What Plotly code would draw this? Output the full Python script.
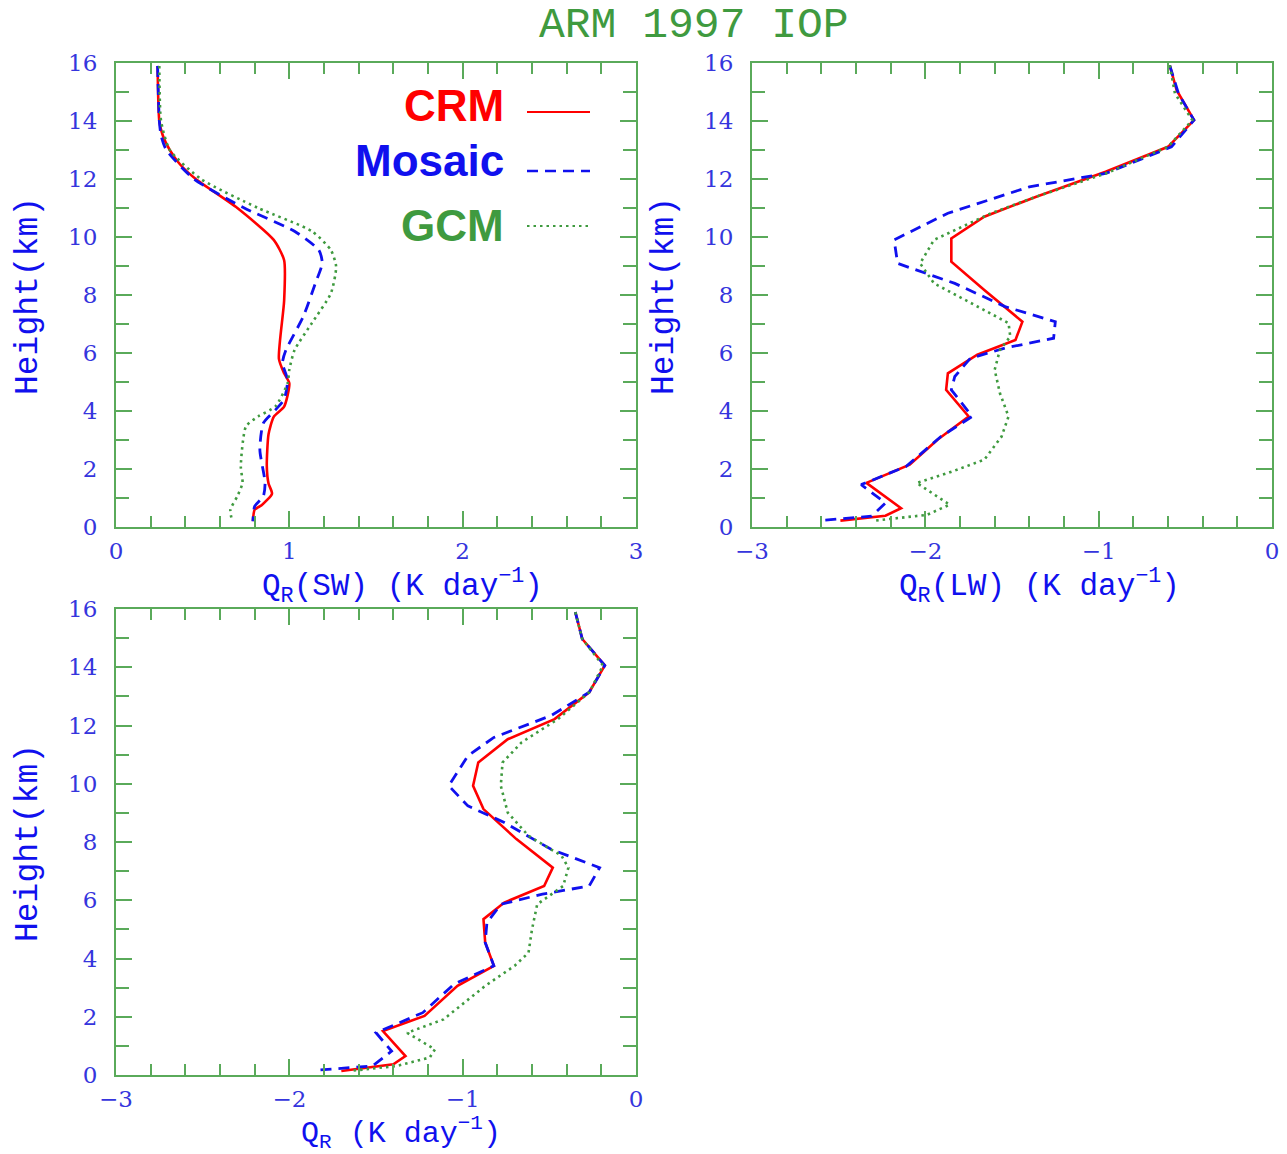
import plotly.graph_objects as go

# ---------------- data ----------------
# Panel 1: shortwave heating rate (K/day) vs height (km)
crm_sw_h = [15.9, 14.0, 13.5, 13.0, 12.5, 12.0, 11.0, 9.9, 9.2, 7.8, 5.8, 5.3, 4.95, 4.15, 3.8, 3.2, 2.1, 1.5, 1.15, 0.75, 0.6, 0.2]
crm_sw = [0.24, 0.25, 0.27, 0.31, 0.37, 0.46, 0.70, 0.91, 0.97, 0.97, 0.94, 0.97, 1.00, 0.97, 0.91, 0.88, 0.87, 0.88, 0.90, 0.84, 0.80, 0.79]
mos_sw_h = [15.9, 14.0, 13.5, 13.0, 12.0, 11.0, 10.2, 9.55, 9.1, 8.4, 7.25, 6.1, 5.65, 5.07, 4.4, 4.04, 3.58, 2.66, 1.52, 1.06, 0.71, 0.2]
mos_sw = [0.24, 0.25, 0.26, 0.29, 0.45, 0.74, 1.03, 1.17, 1.19, 1.15, 1.08, 0.98, 0.96, 0.99, 0.97, 0.92, 0.85, 0.83, 0.86, 0.85, 0.80, 0.79]
gcm_sw_h = [15.9, 14.0, 13.0, 12.0, 11.0, 10.2, 9.55, 8.98, 8.06, 7.03, 6.1, 5.42, 4.96, 4.16, 3.81, 3.47, 2.09, 1.52, 1.06, 0.6, 0.2]
gcm_sw = [0.25, 0.26, 0.31, 0.49, 0.82, 1.13, 1.24, 1.27, 1.24, 1.13, 1.03, 1.00, 0.99, 0.92, 0.82, 0.75, 0.72, 0.73, 0.70, 0.66, 0.67]

# Panel 2: longwave heating rate
crm_lw_h = [15.92, 15.06, 14.03, 13.11, 12.25, 11.39, 10.7, 9.95, 9.15, 8.17, 7.08, 6.45, 5.94, 5.3, 4.73, 3.81, 3.01, 2.15, 1.52, 0.65, 0.39, 0.22]
crm_lw = [-0.59, -0.55, -0.45, -0.60, -0.96, -1.36, -1.66, -1.85, -1.85, -1.66, -1.44, -1.48, -1.70, -1.87, -1.88, -1.75, -1.93, -2.09, -2.34, -2.14, -2.23, -2.49]
mos_lw_h = [15.92, 14.95, 14.03, 13.11, 12.19, 11.73, 10.82, 9.9, 9.09, 8.4, 7.6, 7.08, 6.51, 6.17, 5.82, 5.19, 4.73, 3.81, 3.12, 2.09, 1.46, 0.83, 0.37, 0.22]
mos_lw = [-0.59, -0.54, -0.45, -0.58, -0.96, -1.40, -1.87, -2.18, -2.16, -1.83, -1.54, -1.25, -1.26, -1.54, -1.74, -1.83, -1.85, -1.73, -1.91, -2.11, -2.37, -2.23, -2.31, -2.61]
gcm_lw_h = [15.92, 14.95, 14.03, 13.11, 12.19, 11.39, 10.82, 9.9, 9.09, 8.4, 7.83, 7.03, 6.57, 6.1, 5.42, 4.62, 3.81, 3.12, 2.32, 1.86, 1.52, 0.77, 0.42, 0.22]
gcm_lw = [-0.59, -0.56, -0.46, -0.60, -0.96, -1.36, -1.62, -1.95, -2.03, -1.95, -1.77, -1.52, -1.51, -1.57, -1.60, -1.57, -1.52, -1.56, -1.66, -1.87, -2.05, -1.86, -1.99, -2.29]

# Panel 3: total radiative heating rate
crm_tot_h = [15.89, 14.97, 14.06, 13.14, 12.22, 11.53, 10.73, 9.93, 9.13, 8.1, 7.12, 6.49, 5.92, 5.35, 4.55, 3.75, 3.06, 2.03, 1.51, 0.65, 0.37, 0.14]
crm_tot = [-0.35, -0.31, -0.18, -0.27, -0.47, -0.74, -0.91, -0.94, -0.88, -0.69, -0.48, -0.53, -0.76, -0.88, -0.87, -0.82, -1.03, -1.22, -1.46, -1.33, -1.40, -1.70]
mos_tot_h = [15.89, 14.97, 14.06, 13.14, 12.34, 11.59, 10.96, 9.93, 9.24, 8.67, 7.75, 7.12, 6.49, 6.21, 5.86, 5.23, 4.55, 3.75, 3.12, 2.14, 1.45, 0.82, 0.31, 0.17]
mos_tot = [-0.35, -0.31, -0.18, -0.27, -0.49, -0.82, -0.97, -1.08, -0.97, -0.76, -0.49, -0.21, -0.27, -0.54, -0.78, -0.86, -0.87, -0.82, -1.05, -1.23, -1.50, -1.41, -1.52, -1.83]
gcm_tot_h = [15.89, 14.97, 14.06, 13.14, 12.22, 11.42, 10.73, 9.93, 9.01, 8.21, 7.53, 7.12, 6.49, 5.86, 5.0, 4.2, 3.75, 3.06, 1.91, 1.45, 0.88, 0.6, 0.31, 0.14]
gcm_tot = [-0.35, -0.31, -0.19, -0.27, -0.45, -0.66, -0.77, -0.78, -0.74, -0.62, -0.43, -0.39, -0.42, -0.57, -0.60, -0.62, -0.70, -0.87, -1.11, -1.32, -1.16, -1.19, -1.38, -1.65]

series_names = ["CRM", "Mosaic", "GCM"]
title_text = "ARM 1997 IOP"

# ---------------- style ----------------
W, H = 1287, 1154
RED, BLUE, GREEN = "#ff0000", "#1010ee", "#3f9a3f"
FRAME = "#5aaa5a"
TICKCOL = "#3535dd"
styles = {
    "CRM": dict(color=RED, width=2.6, dash="solid"),
    "Mosaic": dict(color=BLUE, width=2.8, dash="11px,7px"),
    "GCM": dict(color=GREEN, width=2.6, dash="2.5px,4px"),
}

fig = go.Figure()

def add_panel(xaxis, yaxis, data, shape):
    for name, (h, v) in zip(series_names, data):
        st = styles[name]
        fig.add_trace(go.Scatter(
            x=v, y=h, mode="lines", name=name, showlegend=False,
            xaxis=xaxis, yaxis=yaxis,
            line=dict(color=st["color"], width=st["width"], dash=st["dash"],
                      shape=shape, smoothing=0.6 if shape == "spline" else None),
        ))

add_panel("x", "y", [(crm_sw_h, crm_sw), (mos_sw_h, mos_sw), (gcm_sw_h, gcm_sw)], "spline")
add_panel("x2", "y2", [(crm_lw_h, crm_lw), (mos_lw_h, mos_lw), (gcm_lw_h, gcm_lw)], "linear")
add_panel("x3", "y3", [(crm_tot_h, crm_tot), (mos_tot_h, mos_tot), (gcm_tot_h, gcm_tot)], "linear")

def px(x):
    return x / W

def py(y):
    return 1 - y / H

tickfont = dict(family="DejaVu Serif", size=23, color=TICKCOL)

def xaxis_cfg(rng, dom, anchor):
    return dict(
        domain=dom, range=rng, anchor=anchor, automargin=False,
        showline=True, linecolor=FRAME, linewidth=2, mirror="ticks",
        ticks="inside", ticklen=16, tickwidth=2, tickcolor=FRAME,
        dtick=1, tick0=0, showgrid=False, zeroline=False,
        tickfont=tickfont, ticklabelstandoff=2,
        minor=dict(dtick=0.2, ticks="inside", ticklen=11, tickwidth=2, tickcolor=FRAME, showgrid=False),
    )

def yaxis_cfg(dom, anchor):
    return dict(
        domain=dom, range=[0, 16], anchor=anchor, automargin=False,
        showline=True, linecolor=FRAME, linewidth=2, mirror="ticks",
        ticks="inside", ticklen=16, tickwidth=2, tickcolor=FRAME,
        dtick=2, tick0=0, showgrid=False, zeroline=False,
        tickfont=tickfont, ticklabelstandoff=12,
        minor=dict(dtick=1, ticks="inside", ticklen=13, tickwidth=2, tickcolor=FRAME, showgrid=False),
    )

xd_left = [px(116), px(636)]
xd_right = [px(752), px(1272)]
yd_top = [py(527), py(63)]
yd_bot = [py(1075), py(609)]

fig.update_layout(
    width=W, height=H,
    margin=dict(l=0, r=0, t=0, b=0, autoexpand=False),
    paper_bgcolor="white", plot_bgcolor="white",
    showlegend=False,
    xaxis=xaxis_cfg([0, 3], xd_left, "y"),
    yaxis=yaxis_cfg(yd_top, "x"),
    xaxis2=xaxis_cfg([-3, 0], xd_right, "y2"),
    yaxis2=yaxis_cfg(yd_top, "x2"),
    xaxis3=xaxis_cfg([-3, 0], xd_left, "y3"),
    yaxis3=yaxis_cfg(yd_bot, "x3"),
)

# proper minus signs on negative axes
for ax in ["xaxis2", "xaxis3"]:
    fig.layout[ax].update(tickvals=[-3, -2, -1, 0], ticktext=["\u22123", "\u22122", "\u22121", "0"])

titlefont = dict(family="Liberation Mono", size=31, color=BLUE)
ann = []
ann.append(dict(text=title_text, x=px(694), y=py(25), xref="paper", yref="paper",
                showarrow=False, xanchor="center", yanchor="middle",
                font=dict(family="Liberation Mono", size=43, color=GREEN)))
ann.append(dict(text="Q<sub>R</sub>(SW) (K day<sup>\u22121</sup>)", x=px(402), y=py(586),
                xref="paper", yref="paper", showarrow=False, xanchor="center", yanchor="middle",
                font=titlefont))
ann.append(dict(text="Q<sub>R</sub>(LW) (K day<sup>\u22121</sup>)", x=px(1039), y=py(586),
                xref="paper", yref="paper", showarrow=False, xanchor="center", yanchor="middle",
                font=titlefont))
ann.append(dict(text="Q<sub>R</sub> (K day<sup>\u22121</sup>)", x=px(401), y=py(1133),
                xref="paper", yref="paper", showarrow=False, xanchor="center", yanchor="middle",
                font=dict(family="Liberation Mono", size=30, color=BLUE)))
for xc, yc in [(28, 296), (664, 296), (28, 843)]:
    ann.append(dict(text="Height(km)", x=px(xc), y=py(yc), xref="paper", yref="paper",
                    showarrow=False, textangle=-90, xanchor="center", yanchor="middle",
                    font=dict(family="Liberation Mono", size=33, color=BLUE)))

# legend (text left of line sample), inside panel 1
leg_y = [105, 161, 225]
for name, yc in zip(series_names, leg_y):
    st = styles[name]
    ann.append(dict(text="<b>%s</b>" % name, x=px(506), y=py(yc), xref="paper", yref="paper",
                    showarrow=False, xanchor="right", yanchor="middle",
                    font=dict(family="Liberation Sans", size=44, color=st["color"])))

shapes = []
for name, yl in zip(series_names, [112, 171, 226]):
    st = styles[name]
    shapes.append(dict(type="line", xref="paper", yref="paper",
                       x0=px(527), x1=px(590), y0=py(yl), y1=py(yl),
                       line=dict(color=st["color"], width=2 if name != "Mosaic" else 2.4,
                                 dash=st["dash"])))

fig.update_layout(annotations=ann, shapes=shapes)

fig.write_html("out.html")
